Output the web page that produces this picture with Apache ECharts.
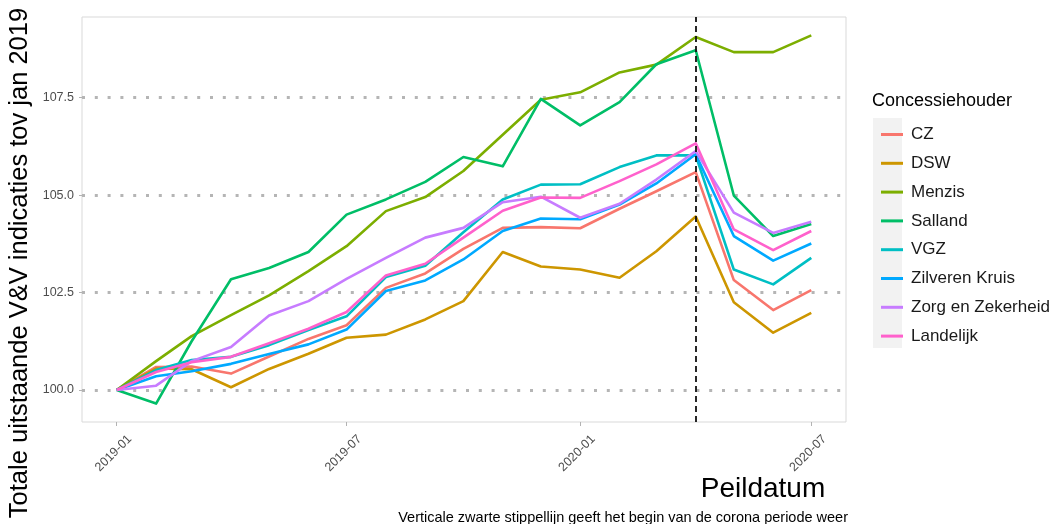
<!DOCTYPE html>
<html>
<head>
<meta charset="utf-8">
<script src="https://cdn.jsdelivr.net/npm/echarts@6/dist/echarts.min.js"></script>
<style>
html,body{margin:0;padding:0;background:#fff;}
#chart{width:1049px;height:524px;}
</style>
</head>
<body>
<div id="chart"></div>
<script>
// ---- data ----
const dates = ['2019-01-01','2019-02-01','2019-03-01','2019-04-01','2019-05-01','2019-06-01','2019-07-01',
  '2019-08-01','2019-09-01','2019-10-01','2019-11-01','2019-12-01','2020-01-01','2020-02-01','2020-03-01',
  '2020-04-01','2020-05-01','2020-06-01','2020-07-01'];
const seriesNames = ['CZ','DSW','Menzis','Salland','VGZ','Zilveren Kruis','Zorg en Zekerheid','Landelijk'];
const CZ       = [100, 100.59, 100.60, 100.42, 100.86, 101.31, 101.66, 102.62, 102.99, 103.62, 104.16, 104.18, 104.15, 104.65, 105.10, 105.59, 102.82, 102.05, 102.56];
const DSW      = [100, 100.55, 100.53, 100.07, 100.54, 100.93, 101.34, 101.42, 101.81, 102.28, 103.54, 103.17, 103.09, 102.88, 103.56, 104.45, 102.25, 101.47, 101.98];
const Menzis   = [100, 100.74, 101.38, 101.92, 102.43, 103.05, 103.69, 104.59, 104.95, 105.62, 106.55, 107.45, 107.64, 108.15, 108.35, 109.06, 108.67, 108.67, 109.10];
const Salland  = [100, 99.65, 101.25, 102.84, 103.13, 103.54, 104.50, 104.89, 105.34, 105.98, 105.74, 107.47, 106.79, 107.39, 108.36, 108.72, 104.99, 103.95, 104.26];
const VGZ      = [100, 100.51, 100.77, 100.85, 101.15, 101.54, 101.89, 102.90, 103.19, 104.05, 104.89, 105.27, 105.28, 105.72, 106.02, 106.02, 103.09, 102.71, 103.39];
const ZK       = [100, 100.35, 100.48, 100.67, 100.92, 101.17, 101.55, 102.54, 102.81, 103.35, 104.08, 104.40, 104.38, 104.76, 105.30, 106.05, 103.95, 103.32, 103.76];
const ZorgZek  = [100, 100.11, 100.74, 101.10, 101.91, 102.28, 102.85, 103.39, 103.91, 104.16, 104.82, 104.96, 104.42, 104.78, 105.40, 106.13, 104.55, 104.03, 104.32];
const Landelijk= [100, 100.46, 100.71, 100.85, 101.20, 101.57, 102.00, 102.94, 103.24, 103.91, 104.60, 104.94, 104.93, 105.36, 105.79, 106.33, 104.12, 103.59, 104.08];
const xTickDates = ['2019-01-01','2019-07-01','2020-01-01','2020-07-01'];
const yTicks = [100, 102.5, 105, 107.5];
const coronaStart = '2020-04-01';
const colors = ['#F8766D','#CD9600','#7CAE00','#00BE67','#00BFC4','#00A9FF','#C77CFF','#FF61CC'];

// ---- helpers ----
function ts(s){ const p = s.split('-').map(Number); return Date.UTC(p[0], p[1]-1, p[2]); }
const allValues = [CZ, DSW, Menzis, Salland, VGZ, ZK, ZorgZek, Landelijk];
const xs = dates.map(ts);
const xMinD = Math.min(...xs), xMaxD = Math.max(...xs);
const xPad = (xMaxD - xMinD) * 0.05;
const flat = [].concat(...allValues);
const yMinD = Math.min(...flat), yMaxD = Math.max(...flat);
const yPad = (yMaxD - yMinD) * 0.05;
const FONT = 'Liberation Sans, Arial, sans-serif';

const series = seriesNames.map((name, i) => ({
  name: name,
  type: 'line',
  data: xs.map((x, j) => [x, allValues[i][j]]),
  showSymbol: false,
  symbol: 'none',
  color: colors[i],
  lineStyle: { width: 2.6, color: colors[i], cap: 'butt', join: 'round' },
  emphasis: { disabled: true },
  silent: true,
  z: 3
}));
series[0].markLine = {
  silent: true,
  symbol: 'none',
  label: { show: false },
  lineStyle: { type: [6, 4], color: '#111', width: 1.8 },
  data: [{ xAxis: ts(coronaStart) }],
  z: 5
};

const chart = echarts.init(document.getElementById('chart'), null, { renderer: 'canvas' });
chart.setOption({
  animation: false,
  backgroundColor: '#ffffff',
  grid: { left: 82, right: 203, top: 17, bottom: 102, show: true, borderColor: '#d9d9d9', borderWidth: 1, backgroundColor: '#ffffff' },
  xAxis: {
    type: 'value',
    min: xMinD - xPad,
    max: xMaxD + xPad,
    axisLine: { show: false },
    axisTick: { show: true, length: 4, lineStyle: { color: '#b3b3b3', width: 1 }, customValues: xTickDates.map(ts) },
    axisLabel: {
      customValues: xTickDates.map(ts),
      rotate: 45,
      margin: 2,
      color: '#4d4d4d',
      fontFamily: FONT,
      fontSize: 12.5,
      verticalAlign: 'top',
      padding: [12, 0, 0, 0],
      formatter: function (v) { const d = new Date(v); const m = d.getUTCMonth() + 1; return d.getUTCFullYear() + '-' + (m < 10 ? '0' + m : m); }
    },
    splitLine: { show: false }
  },
  yAxis: {
    type: 'value',
    min: yMinD - yPad,
    max: yMaxD + yPad,
    axisLine: { show: false },
    axisTick: { show: true, length: 3, lineStyle: { color: '#b3b3b3', width: 1 }, customValues: yTicks },
    axisLabel: { customValues: yTicks, color: '#4d4d4d', fontFamily: FONT, fontSize: 12.5, margin: 8, formatter: v => Number(v).toFixed(1) },
    splitLine: { show: true, lineStyle: { color: '#b5b5b5', width: 3, type: [3, 9.8], dashOffset: 0 } }
  },
  legend: {
    orient: 'vertical',
    left: 876,
    top: 119.5,
    itemWidth: 22,
    itemHeight: 3,
    itemGap: 8.8,
    icon: 'rect',
    data: seriesNames,
    selectedMode: false,
    textStyle: { fontFamily: FONT, fontSize: 17, color: '#1a1a1a', lineHeight: 20, padding: [0, 0, 0, 3] }
  },
  graphic: [
    { type: 'rect', left: 873, top: 118, shape: { width: 29, height: 230 }, style: { fill: '#f2f2f2' }, z: -1, silent: true },
    { type: 'text', left: 872, top: 92, style: { text: 'Concessiehouder', font: '18px ' + FONT, fill: '#000' }, silent: true },
    { type: 'text', x: 20, y: 263, rotation: Math.PI / 2, style: { text: 'Totale uitstaande V&V indicaties tov jan 2019', font: '25.5px ' + FONT, fill: '#000', align: 'center', verticalAlign: 'middle' }, silent: true },
    { type: 'text', x: 763, y: 489, style: { text: 'Peildatum', font: '28px ' + FONT, fill: '#000', align: 'center', verticalAlign: 'middle' }, silent: true },
    { type: 'text', x: 848, y: 518, style: { text: 'Verticale zwarte stippellijn geeft het begin van de corona periode weer', font: '14.5px ' + FONT, fill: '#000', align: 'right', verticalAlign: 'middle' }, silent: true }
  ],
  series: series
});
</script>
</body>
</html>
